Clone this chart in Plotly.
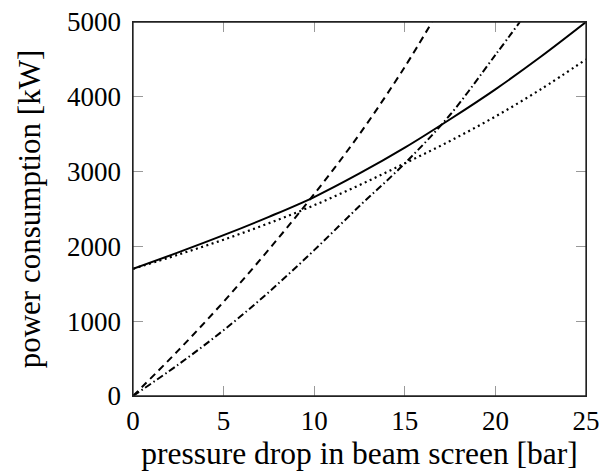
import plotly.graph_objects as go

x_solid = [0, 2.5, 5, 7.5, 10, 12.5, 15, 17.5, 20, 22.5, 25]
y_solid = [1700, 1920, 2150, 2395, 2660, 2975, 3320, 3700, 4100, 4535, 5000]

x_dotted = [0, 2.5, 5, 7.5, 10, 12.5, 15, 17.5, 20, 22.5, 25]
y_dotted = [1700, 1890, 2090, 2310, 2550, 2820, 3110, 3410, 3737, 4100, 4500]

x_dashed = [0, 2.5, 5, 7.5, 10, 12.5, 15, 16.5]
y_dashed = [0, 610, 1260, 1960, 2700, 3500, 4400, 5000]

x_dashdot = [0, 2.5, 5, 7.5, 10, 12.5, 15, 17.5, 20, 21.35]
y_dashdot = [0, 420, 880, 1390, 1950, 2540, 3110, 3760, 4560, 5000]

x_ticks = [0, 5, 10, 15, 20, 25]
y_ticks = [0, 1000, 2000, 3000, 4000, 5000]

FONT = "Liberation Serif"

fig = go.Figure()
fig.add_trace(go.Scatter(x=x_solid, y=y_solid, mode="lines",
                         line=dict(color="black", width=2, shape="spline")))
fig.add_trace(go.Scatter(x=x_dotted, y=y_dotted, mode="lines",
                         line=dict(color="black", width=2.2, shape="spline", dash="2px,3.5px")))
fig.add_trace(go.Scatter(x=x_dashed, y=y_dashed, mode="lines",
                         line=dict(color="black", width=2, shape="spline", dash="7px,5px")))
fig.add_trace(go.Scatter(x=x_dashdot, y=y_dashdot, mode="lines",
                         line=dict(color="black", width=2, shape="spline", dash="7px,3px,1.5px,3px")))

axis_common = dict(
    showgrid=False, zeroline=False, showline=True, linecolor="#222", linewidth=1.3,
    mirror="allticks", ticks="inside", ticklen=10, tickwidth=1, tickcolor="#999",
    tickfont=dict(family=FONT, size=27, color="black"), automargin=False,
    ticklabeloverflow="allow",
)

fig.update_xaxes(range=[0, 25], tickvals=x_ticks, ticktext=[str(v) for v in x_ticks],
                 title=dict(text="pressure drop in beam screen [bar]",
                            font=dict(family=FONT, size=31.5, color="black"), standoff=0),
                 **axis_common)
fig.update_yaxes(range=[0, 5000], tickvals=y_ticks,
                 ticktext=[str(v) + "\u2009" for v in y_ticks],
                 title=dict(text="power consumption [kW]",
                            font=dict(family=FONT, size=31, color="black"), standoff=17),
                 **axis_common)

# frame around the plot area
fig.add_shape(type="rect", xref="paper", yref="paper", x0=0, x1=1, y0=0, y1=1,
              line=dict(color="#222", width=1.3), fillcolor="rgba(0,0,0,0)", layer="above")

# page body has an 8px default margin, so the figure is offset by 8px
fig.update_layout(
    width=599, height=465,
    margin=dict(l=125, r=21, t=14, b=77),
    paper_bgcolor="white", plot_bgcolor="white",
    showlegend=False,
)

fig.write_html("out.html")
